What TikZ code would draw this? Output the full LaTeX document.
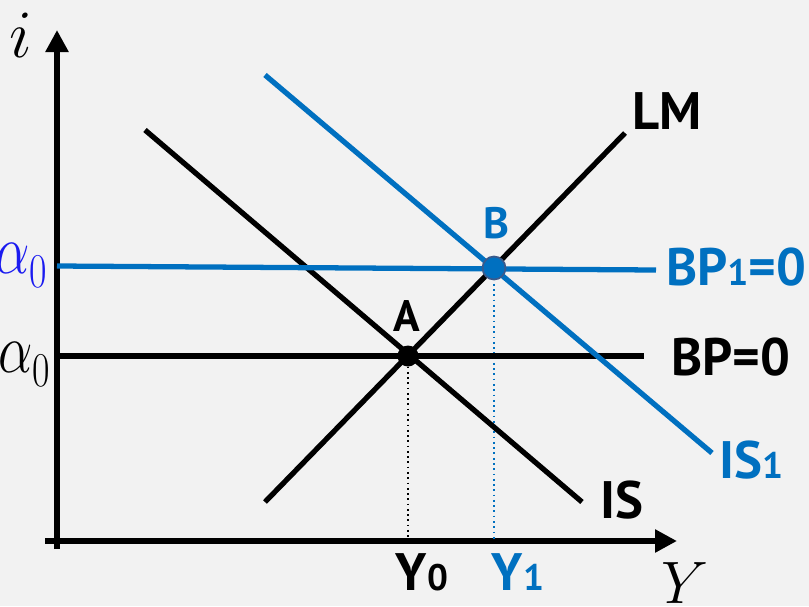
\documentclass[tikz,border=0pt]{standalone}
\usepackage{amsmath}
\usepackage{fontspec}
\setsansfont{PT Sans}
\usepackage{tikz}
\usetikzlibrary{arrows.meta}

\definecolor{fondo}{HTML}{F2F2F2}
\definecolor{azulIS}{HTML}{0070C0}
\definecolor{azulAlfa}{HTML}{1A1AF0}
\definecolor{bordeB}{HTML}{3A5A8C}

% digito pequeño sobre la linea base (BP1, IS1, Y0 ...)
\newcommand{\chico}[1]{{\fontsize{21}{21}\selectfont #1}}
% alfa con el cero casi del mismo tamaño
\newcommand{\alfaCero}{$\alpha$\raisebox{-5pt}{\LARGE$0$}}

\begin{document}
\begin{tikzpicture}[
    x=0.02cm, y=-0.02cm,
    % ejes con punta triangular
    eje/.style={line width=3.8pt, -{Triangle[length=0.44cm,width=0.44cm]}},
    curva/.style={line width=3pt},
    curvaAzul/.style={curva, color=azulIS},
    guia/.style={dotted, line width=1pt},
    etiqueta/.style={font=\sffamily\bfseries\fontsize{30}{32}\selectfont, inner sep=0pt},
    etiquetaPunto/.style={font=\sffamily\bfseries\fontsize{25}{28}\selectfont, inner sep=0pt},
    matEtiqueta/.style={font=\Huge, inner sep=0pt},
    alfaEtiqueta/.style={font=\Huge, inner sep=0pt, anchor=base west, xscale=1.25, yscale=1.6},
    punto/.style={circle, inner sep=0pt, minimum size=0.42cm}
]

    % --- FONDO ---
    \fill[fondo] (0,0) rectangle (809,606);
    \useasboundingbox (0,0) rectangle (809,606);

    % --- EJES ---
    \coordinate (O)      at (57,541);
    \coordinate (ejeYb)  at (57,549);
    \coordinate (ejeYa)  at (57,30);
    \coordinate (ejeXi)  at (45,541);
    \coordinate (ejeXd)  at (677,541);
    \draw[eje] (ejeYb) -- (ejeYa);
    \draw[eje] (ejeXi) -- (ejeXd);

    \node[matEtiqueta, scale=1.55, anchor=base] (ejeI) at (21,57)  {$i$};
    \node[matEtiqueta, scale=1.37, anchor=base] (ejeY) at (685,603) {$Y$};

    % --- EXTREMOS DE LAS CURVAS ---
    \coordinate (LMa)  at (265,502);
    \coordinate (LMb)  at (625,133);
    \coordinate (ISa)  at (145,130);
    \coordinate (ISb)  at (582,502);
    \coordinate (IS1a) at (265,75);
    \coordinate (IS1b) at (712,453);
    \coordinate (BPa)  at (57,356);
    \coordinate (BPb)  at (644,356);
    \coordinate (BP1a) at (57,266);
    \coordinate (BP1b) at (656,270);
    \coordinate (pA)   at (408,356);
    \coordinate (pB)   at (494,268);

    % --- GUIAS PUNTEADAS ---
    \draw[guia] (pA) -- (pA |- O);
    \draw[guia, color=azulIS] (pB) -- (pB |- O);

    % --- CURVAS ---
    \draw[curva] (BPa) -- (BPb);
    \draw[curva] (LMa) -- (LMb);
    \draw[curva] (ISa) -- (ISb);
    \draw[curvaAzul] (BP1a) -- (BP1b);
    \draw[curvaAzul] (IS1a) -- (IS1b);

    % --- EQUILIBRIOS ---
    \node[punto, fill=black] (A) at (pA) {};
    \node[punto, fill=azulIS, draw=bordeB, line width=1pt, minimum size=0.46cm] (B) at (pB) {};
    \node[etiquetaPunto] (labA) at (407,316) {A};
    \node[etiquetaPunto, text=azulIS] (labB) at (496,223) {B};

    % --- ROTULOS ---
    \node[etiqueta] (labLM)  at (667,111) {LM};
    \node[etiqueta] (labIS)  at (622,500) {IS};
    \node[etiqueta, text=azulIS] (labIS1) at (751,460) {IS\chico{1}};
    \node[etiqueta] (labBP)  at (731,357) {BP=0};
    \node[etiqueta, text=azulIS] (labBP1) at (736,267) {BP\chico{1}=0};
    \node[etiqueta] (labY0)  at (422,572) {Y\chico{0}};
    \node[etiqueta, text=azulIS] (labY1) at (518,572) {Y\chico{1}};
    \node[alfaEtiqueta, text=azulAlfa] (alfa1) at (-5,273) {\alfaCero};
    \node[alfaEtiqueta] (alfa0) at (-2,372) {\alfaCero};

\end{tikzpicture}
\end{document}
